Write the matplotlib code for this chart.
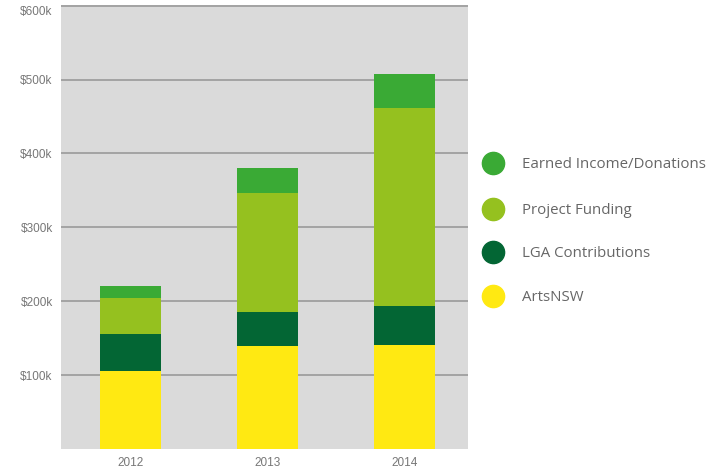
import numpy as np
import matplotlib
matplotlib.use("Agg")
import matplotlib.pyplot as plt
from matplotlib.lines import Line2D

# Data (values in $k)
years = ["2012", "2013", "2014"]
arts_nsw = [105, 139, 141]
lga = [50, 47, 53]
project = [49, 161, 267]
earned = [17, 34, 47]

series_names = ["ArtsNSW", "LGA Contributions", "Project Funding", "Earned Income/Donations"]
series_colors = ["#ffe912", "#036634", "#95c11f", "#3aaa35"]
y_ticks = [100, 200, 300, 400, 500, 600]

fig = plt.figure(figsize=(7.23, 4.75), dpi=100)
ax = fig.add_axes([61 / 723, 26 / 475, 407 / 723, 444 / 475])
ax.set_facecolor("#dadada")

x = np.arange(len(years))
bar_w = 0.445

# gridlines
for t in y_ticks:
    ax.axhline(t, color="#9a9a9a", lw=1.2, zorder=1)

bottom = np.zeros(len(years))
for name, vals, col in zip(series_names, [arts_nsw, lga, project, earned], series_colors):
    ax.bar(x, vals, bar_w, bottom=bottom, color=col, zorder=2, linewidth=0)
    bottom += np.array(vals)

ax.set_xlim(-0.51, 2.46)
ax.set_ylim(0, 601)
ax.set_xticks(x)
ax.set_xticklabels(years)
ax.set_yticks(y_ticks)
ax.set_yticklabels([f"${t}k" for t in y_ticks])
ax.tick_params(length=0, labelsize=8.5, labelcolor="#777777", pad=6)
for lbl in ax.get_xticklabels() + ax.get_yticklabels():
    lbl.set_fontfamily("Liberation Sans")
ax.get_yticklabels()[-1].set_va("top")
for s in ax.spines.values():
    s.set_visible(False)

# legend (top to bottom: Earned, Project, LGA, Arts)
leg_y = [163, 209, 252, 296]
for yy, name, col in zip(leg_y, series_names[::-1], series_colors[::-1]):
    fy = 1 - yy / 475
    fig.add_artist(Line2D([493 / 723], [fy], marker="o", markersize=16,
                          color=col, linestyle="none", transform=fig.transFigure))
    fig.text(522 / 723, fy - 1.5 / 475, name, va="center", ha="left", fontsize=10.8,
             color="#666666", family="Open Sans")

fig.savefig("out.png", dpi=100)
